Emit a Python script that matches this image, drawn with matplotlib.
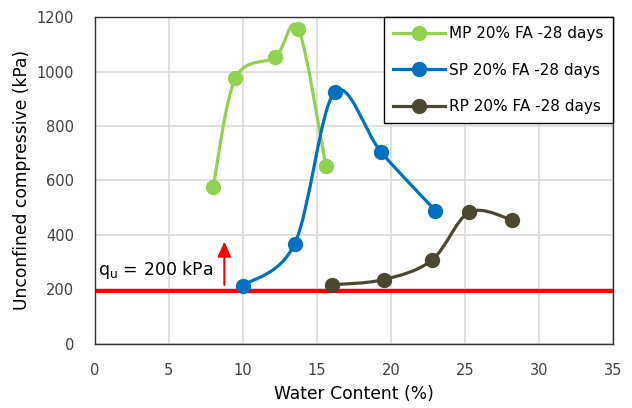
import numpy as np
import matplotlib
matplotlib.use("Agg")
import matplotlib.pyplot as plt
from matplotlib.path import Path
from matplotlib.patches import PathPatch
from matplotlib.lines import Line2D

# =============================================================================
# values
mp_w = [8.0, 9.5, 12.2, 13.75, 15.6]
mp_q = [577, 975, 1054, 1156, 654]
sp_w = [10.0, 13.5, 16.2, 19.35, 23.0]
sp_q = [213, 367, 924, 703, 489]
rp_w = [16.05, 19.5, 22.75, 25.3, 28.15]
rp_q = [216, 235, 306, 483, 455]
limit_q = 193
labels = ["MP 20% FA -28 days", "SP 20% FA -28 days", "RP 20% FA -28 days"]
colors = ["#92D050", "#0070C0", "#4B4730"]


def smooth_path(xs, ys):
  # Excel style smoothed line: Catmull-Rom turned into cubic Bezier segments
  pts = np.column_stack([xs, ys]).astype(float)
  ext = np.vstack([pts[0], pts, pts[-1]])
  verts = [pts[0]]
  codes = [Path.MOVETO]
  for i in range(1, len(ext) - 2):
    p0, p1, p2, p3 = ext[i - 1], ext[i], ext[i + 1], ext[i + 2]
    verts += [p1 + (p2 - p0) / 6, p2 - (p3 - p1) / 6, p2]
    codes += [Path.CURVE4] * 3
  return Path(verts, codes)


def main():
  plt.rcParams['font.family'] = ['DejaVu Sans']
  plt.rcParams['mathtext.default'] = 'regular'
  fig = plt.figure(figsize=(6.32, 4.08), dpi=100)
  ax = fig.add_axes([0.150, 0.158, 0.820, 0.800])

  series = [(mp_w, mp_q), (sp_w, sp_q), (rp_w, rp_q)]
  handles = []
  for (w, q), lab, c in zip(series, labels, colors):
    ax.add_patch(PathPatch(smooth_path(w, q), fill=False, edgecolor=c,
                           lw=2.3, zorder=3, capstyle='round'))
    ax.plot(w, q, 'o', color=c, ms=10, zorder=4)
    handles.append(Line2D([], [], color=c, lw=2.3, marker='o', ms=10, label=lab))

  ax.plot([0, 35], [limit_q, limit_q], color='#FF0000', lw=3, zorder=2)
  ax.annotate('', xy=(8.75, 385), xytext=(8.75, 205),
              arrowprops=dict(arrowstyle='-|>,head_width=0.4,head_length=0.9',
                              color='#FF0000', lw=1.5), zorder=5)
  ax.text(0.2, 272, 'q$_u$ = 200 kPa', fontsize=12.5, va='center', ha='left')

  ax.set_xlim(0, 35)
  ax.set_ylim(0, 1200)
  ax.set_xticks(np.arange(0, 36, 5))
  ax.set_yticks(np.arange(0, 1201, 200))
  ax.grid(True, color='#D9D9D9', lw=1.2)
  ax.set_axisbelow(True)
  for s in ax.spines.values():
    s.set_color('#303030')
    s.set_linewidth(1.0)
  ax.tick_params(axis='x', length=0, pad=14, labelsize=10.5, labelcolor='#404040')
  ax.tick_params(axis='y', length=0, pad=15, labelsize=10.5, labelcolor='#404040')
  ax.set_xlabel('Water Content (%)', fontsize=12.3, labelpad=5)
  ax.set_ylabel('Unconfined compressive (kPa)', fontsize=12.3, labelpad=4)

  leg = ax.legend(handles=handles, loc='upper right', bbox_to_anchor=(1.0, 1.0),
                  fontsize=11, frameon=True, fancybox=False, handlelength=3.4,
                  borderpad=0.6, labelspacing=1.4, handletextpad=0.3,
                  borderaxespad=0.0)
  leg.get_frame().set_edgecolor('#000000')
  leg.get_frame().set_linewidth(1.0)
  leg.get_frame().set_alpha(1)

  fig.savefig('out.png', dpi=100)


# Execute
if __name__ == "__main__":
  main()
